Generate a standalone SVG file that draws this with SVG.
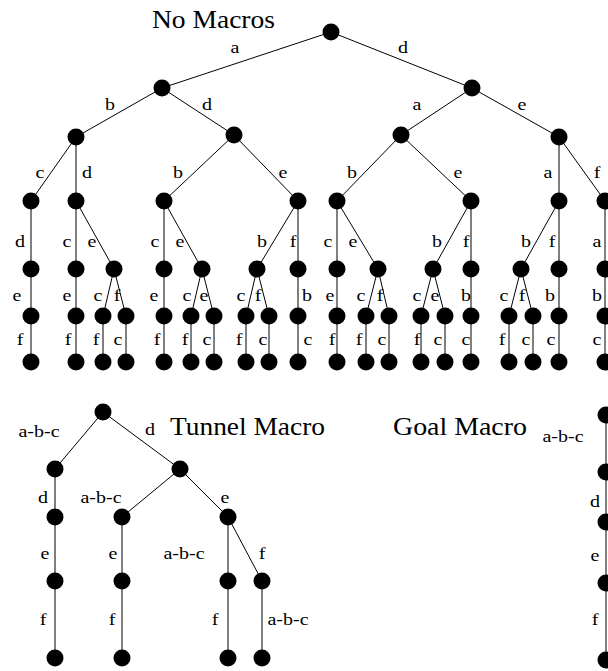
<svg xmlns="http://www.w3.org/2000/svg" width="608" height="671" viewBox="0 0 608 671">
  <style>
    .edge { stroke: #000; stroke-width: 1; fill: none; }
    .node circle { fill: #000; }
    .title { font-family: "Liberation Serif", "Times New Roman", serif; font-size: 26px; fill: #000; }
    .lb { font-family: "Liberation Serif", "Times New Roman", serif; font-size: 16px; fill: #000; text-anchor: middle; }
  </style>
  <defs>
    <circle id="dot" r="8.5"/>
  </defs>
  <rect width="608" height="671" fill="#fff"/>

  <!-- titles -->
  <text class="title" x="152" y="28" textLength="123" lengthAdjust="spacingAndGlyphs">No Macros</text>
  <text class="title" x="170" y="435" textLength="155" lengthAdjust="spacingAndGlyphs">Tunnel Macro</text>
  <text class="title" x="393" y="435" textLength="134" lengthAdjust="spacingAndGlyphs">Goal Macro</text>

  <g id="connectors" class="edge">
    <!-- search tree without macros -->
    <line x1="331" y1="32" x2="162" y2="88"/>
    <line x1="331" y1="32" x2="472" y2="88"/>
    <line x1="162" y1="88" x2="76" y2="137"/>
    <line x1="162" y1="88" x2="234" y2="135"/>
    <line x1="472" y1="88" x2="401" y2="135"/>
    <line x1="472" y1="88" x2="559" y2="137"/>
    <line x1="76" y1="137" x2="31" y2="201"/>
    <line x1="76" y1="137" x2="76" y2="201"/>
    <line x1="234" y1="135" x2="164" y2="201"/>
    <line x1="234" y1="135" x2="298" y2="201"/>
    <line x1="401" y1="135" x2="337" y2="201"/>
    <line x1="401" y1="135" x2="471" y2="201"/>
    <line x1="559" y1="137" x2="559" y2="201"/>
    <line x1="559" y1="137" x2="605" y2="201"/>
    <!-- level 3 to 4 -->
    <line x1="31" y1="201" x2="31" y2="269"/>
    <line x1="76" y1="201" x2="76" y2="269"/>
    <line x1="76" y1="201" x2="114" y2="269"/>
    <line x1="164" y1="201" x2="164" y2="269"/>
    <line x1="164" y1="201" x2="202" y2="269"/>
    <line x1="298" y1="201" x2="257" y2="269"/>
    <line x1="298" y1="201" x2="298" y2="269"/>
    <line x1="337" y1="201" x2="337" y2="269"/>
    <line x1="337" y1="201" x2="378" y2="269"/>
    <line x1="471" y1="201" x2="433" y2="269"/>
    <line x1="471" y1="201" x2="471" y2="269"/>
    <line x1="559" y1="201" x2="521" y2="269"/>
    <line x1="559" y1="201" x2="559" y2="269"/>
    <line x1="605" y1="201" x2="605" y2="269"/>
    <!-- level 4 to 5 -->
    <line x1="31" y1="269" x2="31" y2="316"/>
    <line x1="76" y1="269" x2="76" y2="316"/>
    <line x1="114" y1="269" x2="103" y2="316"/>
    <line x1="114" y1="269" x2="126" y2="316"/>
    <line x1="164" y1="269" x2="164" y2="316"/>
    <line x1="202" y1="269" x2="191" y2="316"/>
    <line x1="202" y1="269" x2="214" y2="316"/>
    <line x1="257" y1="269" x2="246" y2="316"/>
    <line x1="257" y1="269" x2="269" y2="316"/>
    <line x1="298" y1="269" x2="298" y2="316"/>
    <line x1="337" y1="269" x2="337" y2="316"/>
    <line x1="378" y1="269" x2="366" y2="316"/>
    <line x1="378" y1="269" x2="389" y2="316"/>
    <line x1="433" y1="269" x2="421" y2="316"/>
    <line x1="433" y1="269" x2="445" y2="316"/>
    <line x1="471" y1="269" x2="471" y2="316"/>
    <line x1="521" y1="269" x2="509" y2="316"/>
    <line x1="521" y1="269" x2="533" y2="316"/>
    <line x1="559" y1="269" x2="559" y2="316"/>
    <line x1="605" y1="269" x2="605" y2="316"/>
    <!-- level 5 to 6 -->
    <line x1="31" y1="316" x2="31" y2="362"/>
    <line x1="76" y1="316" x2="76" y2="362"/>
    <line x1="103" y1="316" x2="103" y2="362"/>
    <line x1="126" y1="316" x2="126" y2="362"/>
    <line x1="164" y1="316" x2="164" y2="362"/>
    <line x1="191" y1="316" x2="191" y2="362"/>
    <line x1="214" y1="316" x2="214" y2="362"/>
    <line x1="246" y1="316" x2="246" y2="362"/>
    <line x1="269" y1="316" x2="269" y2="362"/>
    <line x1="298" y1="316" x2="298" y2="362"/>
    <line x1="337" y1="316" x2="337" y2="362"/>
    <line x1="366" y1="316" x2="366" y2="362"/>
    <line x1="389" y1="316" x2="389" y2="362"/>
    <line x1="421" y1="316" x2="421" y2="362"/>
    <line x1="445" y1="316" x2="445" y2="362"/>
    <line x1="471" y1="316" x2="471" y2="362"/>
    <line x1="509" y1="316" x2="509" y2="362"/>
    <line x1="533" y1="316" x2="533" y2="362"/>
    <line x1="559" y1="316" x2="559" y2="362"/>
    <line x1="605" y1="316" x2="605" y2="362"/>

    <!-- tunnel macro tree -->
    <line x1="103" y1="412" x2="55" y2="469"/>
    <line x1="103" y1="412" x2="180" y2="469"/>
    <line x1="55" y1="469" x2="55" y2="658"/>
    <line x1="180" y1="469" x2="122" y2="517"/>
    <line x1="180" y1="469" x2="228" y2="517"/>
    <line x1="122" y1="517" x2="122" y2="658"/>
    <line x1="228" y1="517" x2="228" y2="658"/>
    <line x1="228" y1="517" x2="262" y2="581"/>
    <line x1="262" y1="581" x2="262" y2="658"/>

    <!-- goal macro chain -->
    <line x1="606" y1="415" x2="606" y2="660"/>
  </g>

  <g id="nodes" class="node">
    <g id="root"><use href="#dot" x="331" y="32"/></g>
    <g id="n1-162"><use href="#dot" x="162" y="88"/></g>
    <g id="n1-472"><use href="#dot" x="472" y="88"/></g>
    <g id="n2-76"><use href="#dot" x="76" y="137"/></g>
    <g id="n2-234"><use href="#dot" x="234" y="135"/></g>
    <g id="n2-401"><use href="#dot" x="401" y="135"/></g>
    <g id="n2-559"><use href="#dot" x="559" y="137"/></g>
    <g id="n3-31"><use href="#dot" x="31" y="201"/></g>
    <g id="n3-76"><use href="#dot" x="76" y="201"/></g>
    <g id="n3-164"><use href="#dot" x="164" y="201"/></g>
    <g id="n3-298"><use href="#dot" x="298" y="201"/></g>
    <g id="n3-337"><use href="#dot" x="337" y="201"/></g>
    <g id="n3-471"><use href="#dot" x="471" y="201"/></g>
    <g id="n3-559"><use href="#dot" x="559" y="201"/></g>
    <g id="n3-605"><use href="#dot" x="605" y="201"/></g>
    <g id="n4-31"><use href="#dot" x="31" y="269"/></g>
    <g id="n4-76"><use href="#dot" x="76" y="269"/></g>
    <g id="n4-114"><use href="#dot" x="114" y="269"/></g>
    <g id="n4-164"><use href="#dot" x="164" y="269"/></g>
    <g id="n4-202"><use href="#dot" x="202" y="269"/></g>
    <g id="n4-257"><use href="#dot" x="257" y="269"/></g>
    <g id="n4-298"><use href="#dot" x="298" y="269"/></g>
    <g id="n4-337"><use href="#dot" x="337" y="269"/></g>
    <g id="n4-378"><use href="#dot" x="378" y="269"/></g>
    <g id="n4-433"><use href="#dot" x="433" y="269"/></g>
    <g id="n4-471"><use href="#dot" x="471" y="269"/></g>
    <g id="n4-521"><use href="#dot" x="521" y="269"/></g>
    <g id="n4-559"><use href="#dot" x="559" y="269"/></g>
    <g id="n4-605"><use href="#dot" x="605" y="269"/></g>
    <g id="n5-31"><use href="#dot" x="31" y="316"/></g>
    <g id="n5-76"><use href="#dot" x="76" y="316"/></g>
    <g id="n5-103"><use href="#dot" x="103" y="316"/></g>
    <g id="n5-126"><use href="#dot" x="126" y="316"/></g>
    <g id="n5-164"><use href="#dot" x="164" y="316"/></g>
    <g id="n5-191"><use href="#dot" x="191" y="316"/></g>
    <g id="n5-214"><use href="#dot" x="214" y="316"/></g>
    <g id="n5-246"><use href="#dot" x="246" y="316"/></g>
    <g id="n5-269"><use href="#dot" x="269" y="316"/></g>
    <g id="n5-298"><use href="#dot" x="298" y="316"/></g>
    <g id="n5-337"><use href="#dot" x="337" y="316"/></g>
    <g id="n5-366"><use href="#dot" x="366" y="316"/></g>
    <g id="n5-389"><use href="#dot" x="389" y="316"/></g>
    <g id="n5-421"><use href="#dot" x="421" y="316"/></g>
    <g id="n5-445"><use href="#dot" x="445" y="316"/></g>
    <g id="n5-471"><use href="#dot" x="471" y="316"/></g>
    <g id="n5-509"><use href="#dot" x="509" y="316"/></g>
    <g id="n5-533"><use href="#dot" x="533" y="316"/></g>
    <g id="n5-559"><use href="#dot" x="559" y="316"/></g>
    <g id="n5-605"><use href="#dot" x="605" y="316"/></g>
    <g id="n6-31"><use href="#dot" x="31" y="362"/></g>
    <g id="n6-76"><use href="#dot" x="76" y="362"/></g>
    <g id="n6-103"><use href="#dot" x="103" y="362"/></g>
    <g id="n6-126"><use href="#dot" x="126" y="362"/></g>
    <g id="n6-164"><use href="#dot" x="164" y="362"/></g>
    <g id="n6-191"><use href="#dot" x="191" y="362"/></g>
    <g id="n6-214"><use href="#dot" x="214" y="362"/></g>
    <g id="n6-246"><use href="#dot" x="246" y="362"/></g>
    <g id="n6-269"><use href="#dot" x="269" y="362"/></g>
    <g id="n6-298"><use href="#dot" x="298" y="362"/></g>
    <g id="n6-337"><use href="#dot" x="337" y="362"/></g>
    <g id="n6-366"><use href="#dot" x="366" y="362"/></g>
    <g id="n6-389"><use href="#dot" x="389" y="362"/></g>
    <g id="n6-421"><use href="#dot" x="421" y="362"/></g>
    <g id="n6-445"><use href="#dot" x="445" y="362"/></g>
    <g id="n6-471"><use href="#dot" x="471" y="362"/></g>
    <g id="n6-509"><use href="#dot" x="509" y="362"/></g>
    <g id="n6-533"><use href="#dot" x="533" y="362"/></g>
    <g id="n6-559"><use href="#dot" x="559" y="362"/></g>
    <g id="n6-605"><use href="#dot" x="605" y="362"/></g>

    <!-- tunnel macro tree -->
    <g id="t-root"><use href="#dot" x="103" y="412"/></g>
    <g id="t1-55"><use href="#dot" x="55" y="469"/></g>
    <g id="t1-180"><use href="#dot" x="180" y="469"/></g>
    <g id="t2-55"><use href="#dot" x="55" y="517"/></g>
    <g id="t2-122"><use href="#dot" x="122" y="517"/></g>
    <g id="t2-228"><use href="#dot" x="228" y="517"/></g>
    <g id="t3-55"><use href="#dot" x="55" y="581"/></g>
    <g id="t3-122"><use href="#dot" x="122" y="581"/></g>
    <g id="t3-228"><use href="#dot" x="228" y="581"/></g>
    <g id="t3-262"><use href="#dot" x="262" y="581"/></g>
    <g id="t4-55"><use href="#dot" x="55" y="658"/></g>
    <g id="t4-122"><use href="#dot" x="122" y="658"/></g>
    <g id="t4-228"><use href="#dot" x="228" y="658"/></g>
    <g id="t4-262"><use href="#dot" x="262" y="658"/></g>

    <!-- goal macro chain -->
    <g id="g0"><use href="#dot" x="606" y="415"/></g>
    <g id="g1"><use href="#dot" x="606" y="472"/></g>
    <g id="g2"><use href="#dot" x="606" y="522"/></g>
    <g id="g3"><use href="#dot" x="606" y="583"/></g>
    <g id="g4"><use href="#dot" x="606" y="660"/></g>
  </g>

  <g id="edge-labels">
    <text class="lb" transform="translate(235 53) scale(1.25 1)">a</text>
    <text class="lb" transform="translate(403 53) scale(1.25 1)">d</text>
    <text class="lb" transform="translate(110 110) scale(1.25 1)">b</text>
    <text class="lb" transform="translate(207 110) scale(1.25 1)">d</text>
    <text class="lb" transform="translate(417 110) scale(1.25 1)">a</text>
    <text class="lb" transform="translate(522 110) scale(1.25 1)">e</text>
    <text class="lb" transform="translate(40 178) scale(1.25 1)">c</text>
    <text class="lb" transform="translate(87 178) scale(1.25 1)">d</text>
    <text class="lb" transform="translate(178 178) scale(1.25 1)">b</text>
    <text class="lb" transform="translate(283 178) scale(1.25 1)">e</text>
    <text class="lb" transform="translate(352 178) scale(1.25 1)">b</text>
    <text class="lb" transform="translate(458 178) scale(1.25 1)">e</text>
    <text class="lb" transform="translate(548 178) scale(1.25 1)">a</text>
    <text class="lb" transform="translate(597 178) scale(1.25 1)">f</text>

    <text class="lb" transform="translate(20 247) scale(1.25 1)">d</text>
    <text class="lb" transform="translate(67 247) scale(1.25 1)">c</text>
    <text class="lb" transform="translate(92 247) scale(1.25 1)">e</text>
    <text class="lb" transform="translate(155 247) scale(1.25 1)">c</text>
    <text class="lb" transform="translate(180 247) scale(1.25 1)">e</text>
    <text class="lb" transform="translate(262 247) scale(1.25 1)">b</text>
    <text class="lb" transform="translate(293 247) scale(1.25 1)">f</text>
    <text class="lb" transform="translate(328 247) scale(1.25 1)">c</text>
    <text class="lb" transform="translate(353 247) scale(1.25 1)">e</text>
    <text class="lb" transform="translate(437 247) scale(1.25 1)">b</text>
    <text class="lb" transform="translate(466 247) scale(1.25 1)">f</text>
    <text class="lb" transform="translate(526 247) scale(1.25 1)">b</text>
    <text class="lb" transform="translate(552 247) scale(1.25 1)">f</text>
    <text class="lb" transform="translate(597 247) scale(1.25 1)">a</text>

    <text class="lb" transform="translate(17 301) scale(1.25 1)">e</text>
    <text class="lb" transform="translate(67 301) scale(1.25 1)">e</text>
    <text class="lb" transform="translate(98 301) scale(1.25 1)">c</text>
    <text class="lb" transform="translate(117 301) scale(1.25 1)">f</text>
    <text class="lb" transform="translate(154 301) scale(1.25 1)">e</text>
    <text class="lb" transform="translate(187 301) scale(1.25 1)">c</text>
    <text class="lb" transform="translate(204 301) scale(1.25 1)">e</text>
    <text class="lb" transform="translate(241 301) scale(1.25 1)">c</text>
    <text class="lb" transform="translate(258 301) scale(1.25 1)">f</text>
    <text class="lb" transform="translate(307 301) scale(1.25 1)">b</text>
    <text class="lb" transform="translate(330 301) scale(1.25 1)">e</text>
    <text class="lb" transform="translate(361 301) scale(1.25 1)">c</text>
    <text class="lb" transform="translate(380 301) scale(1.25 1)">f</text>
    <text class="lb" transform="translate(417 301) scale(1.25 1)">c</text>
    <text class="lb" transform="translate(435 301) scale(1.25 1)">e</text>
    <text class="lb" transform="translate(466 301) scale(1.25 1)">b</text>
    <text class="lb" transform="translate(504 301) scale(1.25 1)">c</text>
    <text class="lb" transform="translate(522 301) scale(1.25 1)">f</text>
    <text class="lb" transform="translate(550 301) scale(1.25 1)">b</text>
    <text class="lb" transform="translate(597 301) scale(1.25 1)">b</text>

    <text class="lb" transform="translate(20 345) scale(1.25 1)">f</text>
    <text class="lb" transform="translate(68 345) scale(1.25 1)">f</text>
    <text class="lb" transform="translate(96 345) scale(1.25 1)">f</text>
    <text class="lb" transform="translate(118 345) scale(1.25 1)">c</text>
    <text class="lb" transform="translate(157 345) scale(1.25 1)">f</text>
    <text class="lb" transform="translate(185 345) scale(1.25 1)">f</text>
    <text class="lb" transform="translate(207 345) scale(1.25 1)">c</text>
    <text class="lb" transform="translate(239 345) scale(1.25 1)">f</text>
    <text class="lb" transform="translate(263 345) scale(1.25 1)">c</text>
    <text class="lb" transform="translate(308 345) scale(1.25 1)">c</text>
    <text class="lb" transform="translate(332 345) scale(1.25 1)">f</text>
    <text class="lb" transform="translate(359 345) scale(1.25 1)">f</text>
    <text class="lb" transform="translate(382 345) scale(1.25 1)">c</text>
    <text class="lb" transform="translate(417 345) scale(1.25 1)">f</text>
    <text class="lb" transform="translate(438 345) scale(1.25 1)">c</text>
    <text class="lb" transform="translate(466 345) scale(1.25 1)">c</text>
    <text class="lb" transform="translate(502 345) scale(1.25 1)">f</text>
    <text class="lb" transform="translate(526 345) scale(1.25 1)">c</text>
    <text class="lb" transform="translate(551 345) scale(1.25 1)">c</text>
    <text class="lb" transform="translate(597 345) scale(1.25 1)">c</text>

    <!-- tunnel macro labels -->
    <text class="lb" transform="translate(39 437) scale(1.25 1)">a-b-c</text>
    <text class="lb" transform="translate(150 435) scale(1.25 1)">d</text>
    <text class="lb" transform="translate(43 503) scale(1.25 1)">d</text>
    <text class="lb" transform="translate(101 503) scale(1.25 1)">a-b-c</text>
    <text class="lb" transform="translate(225 503) scale(1.25 1)">e</text>
    <text class="lb" transform="translate(45 559) scale(1.25 1)">e</text>
    <text class="lb" transform="translate(113 559) scale(1.25 1)">e</text>
    <text class="lb" transform="translate(184 559) scale(1.25 1)">a-b-c</text>
    <text class="lb" transform="translate(262 559) scale(1.25 1)">f</text>
    <text class="lb" transform="translate(43 625) scale(1.25 1)">f</text>
    <text class="lb" transform="translate(112 625) scale(1.25 1)">f</text>
    <text class="lb" transform="translate(215 625) scale(1.25 1)">f</text>
    <text class="lb" transform="translate(288 625) scale(1.25 1)">a-b-c</text>

    <!-- goal macro labels -->
    <text class="lb" transform="translate(563 442) scale(1.25 1)">a-b-c</text>
    <text class="lb" transform="translate(595 507) scale(1.25 1)">d</text>
    <text class="lb" transform="translate(595 561) scale(1.25 1)">e</text>
    <text class="lb" transform="translate(595 625) scale(1.25 1)">f</text>
  </g>
</svg>
